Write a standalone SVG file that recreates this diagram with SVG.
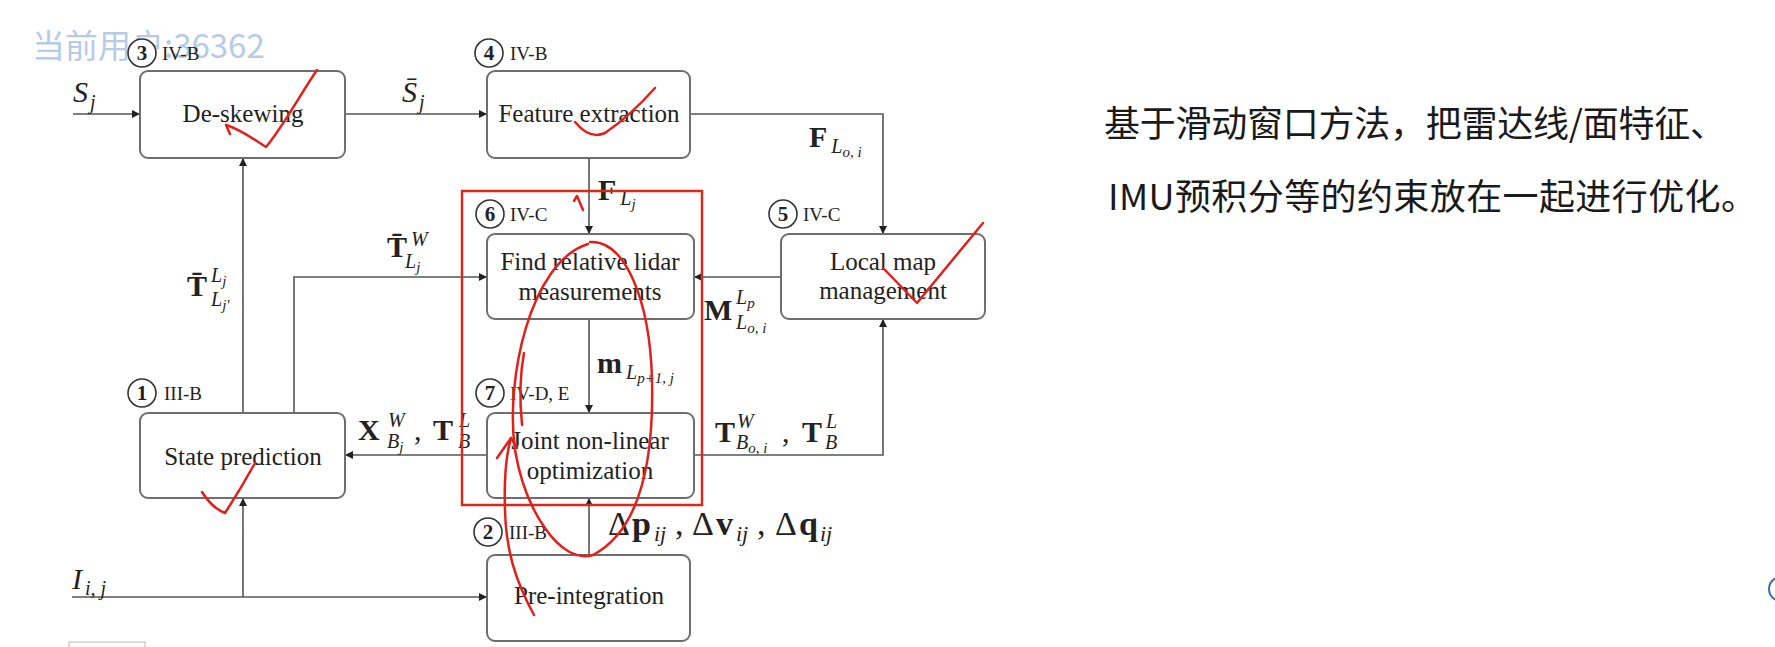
<svg xmlns="http://www.w3.org/2000/svg" width="1775" height="647" viewBox="0 0 1775 647">
<defs>
<marker id="arr" viewBox="0 0 10 10" refX="10" refY="5" markerWidth="9" markerHeight="8" markerUnits="userSpaceOnUse" orient="auto"><path d="M0,0 L10,5 L0,10 z" fill="#222"/></marker>
<style>
.box{fill:#fff;stroke:#6e6e6e;stroke-width:2}
.lbl{font-family:"Liberation Serif","Times New Roman",serif;font-size:25px;fill:#222;text-anchor:middle}
.sec{font-family:"Liberation Serif","Times New Roman",serif;font-size:19px;fill:#222}
.num{fill:#fff;stroke:#333;stroke-width:1.6}
.numt{font-family:"Liberation Serif","Times New Roman",serif;font-size:21px;font-weight:bold;fill:#222;text-anchor:middle}
.m{font-family:"Liberation Serif","Times New Roman",serif;font-size:30px;fill:#222}
.b{font-weight:bold}
.i{font-style:italic}
.s{font-size:20px;font-style:italic}
.ss{font-size:15px;font-style:italic}
.big{font-size:34px}
.bs{font-size:22px;font-style:italic}
.con{fill:none;stroke:#555;stroke-width:1.6}
.red{fill:none;stroke:#e0211b;stroke-width:2.5;stroke-linecap:round;stroke-linejoin:round}
.cn{font-family:"Noto Sans CJK SC",sans-serif;font-size:36px;fill:#1a1a1a}
</style>
</defs>
<rect width="1775" height="647" fill="#fff"/>
<text x="32" y="58" font-family="Noto Sans CJK SC, sans-serif" font-size="33" fill="#a9c3e3" opacity="0.85">当前用户:36362</text>

<g id="connectors">
<path class="con" d="M73 114 H140" marker-end="url(#arr)"/>
<path class="con" d="M345 114 H487" marker-end="url(#arr)"/>
<path class="con" d="M690 114 H883 V234" marker-end="url(#arr)"/>
<path class="con" d="M589 158 V234" marker-end="url(#arr)"/>
<path class="con" d="M781 277 H694" marker-end="url(#arr)"/>
<path class="con" d="M589 319 V413" marker-end="url(#arr)"/>
<path class="con" d="M694 455 H883 V319" marker-end="url(#arr)"/>
<path class="con" d="M487 455 H345" marker-end="url(#arr)"/>
<path class="con" d="M243 413 V158" marker-end="url(#arr)"/>
<path class="con" d="M294 413 V277 H487" marker-end="url(#arr)"/>
<path class="con" d="M72 597 H487" marker-end="url(#arr)"/>
<path class="con" d="M243 597 V498" marker-end="url(#arr)"/>
<path class="con" d="M589 555 V498" marker-end="url(#arr)"/>
</g>

<g id="n3">
<rect class="box" x="140" y="71" width="205" height="87" rx="8"/>
<text class="lbl" x="243" y="122">De-skewing</text>
<circle class="num" cx="142" cy="53" r="14"/><text class="numt" x="142" y="60">3</text>
<text class="sec" x="162" y="60">IV-B</text>
</g>
<g id="n4">
<rect class="box" x="487" y="71" width="203" height="87" rx="8"/>
<text class="lbl" x="589" y="122">Feature extraction</text>
<circle class="num" cx="489" cy="53" r="14"/><text class="numt" x="489" y="60">4</text>
<text class="sec" x="510" y="60">IV-B</text>
</g>
<g id="n6">
<rect class="box" x="487" y="234" width="207" height="85" rx="8"/>
<text class="lbl" x="590" y="270">Find relative lidar</text>
<text class="lbl" x="590" y="300">measurements</text>
<circle class="num" cx="490" cy="214" r="14"/><text class="numt" x="490" y="221">6</text>
<text class="sec" x="510" y="221">IV-C</text>
</g>
<g id="n5">
<rect class="box" x="781" y="234" width="204" height="85" rx="8"/>
<text class="lbl" x="883" y="270">Local map</text>
<text class="lbl" x="883" y="299">management</text>
<circle class="num" cx="783" cy="214" r="14"/><text class="numt" x="783" y="221">5</text>
<text class="sec" x="803" y="221">IV-C</text>
</g>
<g id="n1">
<rect class="box" x="140" y="413" width="205" height="85" rx="8"/>
<text class="lbl" x="243" y="465">State prediction</text>
<circle class="num" cx="142" cy="393" r="14"/><text class="numt" x="142" y="400">1</text>
<text class="sec" x="164" y="400">III-B</text>
</g>
<g id="n7">
<rect class="box" x="487" y="413" width="207" height="85" rx="8"/>
<text class="lbl" x="590" y="449">Joint non-linear</text>
<text class="lbl" x="590" y="479">optimization</text>
<circle class="num" cx="490" cy="393" r="14"/><text class="numt" x="490" y="400">7</text>
<text class="sec" x="510" y="400">IV-D, E</text>
</g>
<g id="n2">
<rect class="box" x="487" y="555" width="203" height="86" rx="8"/>
<text class="lbl" x="589" y="604">Pre-integration</text>
<circle class="num" cx="488" cy="532" r="14"/><text class="numt" x="488" y="539">2</text>
<text class="sec" x="509" y="539">III-B</text>
</g>

<g id="labels">
<text class="m" x="73" y="102"><tspan class="i">S</tspan><tspan class="s" dx="2" dy="7">j</tspan></text>
<text class="m" x="402" y="102"><tspan class="i">S̄</tspan><tspan class="s" dx="2" dy="7">j</tspan></text>
<text class="m" x="809" y="147"><tspan class="b">F</tspan><tspan class="s" dx="4" dy="6">L</tspan><tspan class="ss" dy="4">o, i</tspan></text>
<text class="m" x="598" y="200"><tspan class="b">F</tspan><tspan class="s" dx="4" dy="5">L</tspan><tspan class="ss" dy="4">j</tspan></text>
<text class="m" x="387" y="257"><tspan class="b">T̄</tspan><tspan class="s" x="411" y="246">W</tspan><tspan class="s" x="405" y="268">L</tspan><tspan class="ss" dy="4">j</tspan></text>
<text class="m" x="187" y="296"><tspan class="b">T̄</tspan><tspan class="s" x="211" y="282">L</tspan><tspan class="ss" dy="4">j</tspan><tspan class="s" x="211" y="306">L</tspan><tspan class="ss" dy="4">j′</tspan></text>
<text class="m" x="704" y="320"><tspan class="b">M</tspan><tspan class="s" x="736" y="304">L</tspan><tspan class="ss" dy="4">p</tspan><tspan class="s" x="736" y="329">L</tspan><tspan class="ss" dy="4">o, i</tspan></text>
<text class="m" x="597" y="373"><tspan class="b">m</tspan><tspan class="s" dx="4" dy="6">L</tspan><tspan class="ss" dy="4">p+1, j</tspan></text>
<text class="m" x="358" y="440"><tspan class="b">X</tspan><tspan class="s" x="388" y="427">W</tspan><tspan class="s" x="387" y="448">B</tspan><tspan class="ss" dy="4">j</tspan><tspan x="414" y="440">,</tspan><tspan class="b" x="433" y="440">T</tspan><tspan class="s" x="459" y="427">L</tspan><tspan class="s" x="458" y="448">B</tspan></text>
<text class="m" x="715" y="442"><tspan class="b">T</tspan><tspan class="s" x="737" y="428">W</tspan><tspan class="s" x="736" y="449">B</tspan><tspan class="ss" dy="4">o, i</tspan><tspan x="782" y="442">,</tspan><tspan class="b" x="802" y="442">T</tspan><tspan class="s" x="826" y="428">L</tspan><tspan class="s" x="825" y="449">B</tspan></text>
<text class="m big" x="608" y="535"><tspan x="608">Δ</tspan><tspan class="b" x="632">p</tspan><tspan class="bs" x="654" y="541">ij</tspan><tspan x="675" y="535">,</tspan><tspan x="692">Δ</tspan><tspan class="b" x="716">v</tspan><tspan class="bs" x="736" y="541">ij</tspan><tspan x="757" y="535">,</tspan><tspan x="775">Δ</tspan><tspan class="b" x="799">q</tspan><tspan class="bs" x="820" y="541">ij</tspan></text>
<text class="m" x="72" y="589"><tspan class="i">I</tspan><tspan class="s" dx="3" dy="6">i, j</tspan></text>
</g>

<rect x="462" y="191" width="240" height="314" fill="none" stroke="#d62a1e" stroke-width="2.5"/>

<g id="annotations">
<path class="red" d="M317 70 C300 95 282 128 266 147 C255 140 240 129 226 125 L230 134"/>
<path class="red" d="M575 122 Q590 140 605 133 Q630 116 655 88"/>
<path class="red" d="M883 268 L917 303 L983 223"/>
<path class="red" d="M202 492 Q212 508 225 513 Q240 490 255 463"/>
<path class="red" d="M574 201 L577 196 L583 210"/>
<path class="red" d="M590 242 C625 240 650 300 652 380 C654 460 640 530 593 555 C560 565 525 510 515 450 C505 380 530 262 588 244"/>
<path class="red" d="M524 353 Q518 385 522 425"/>
<path class="red" d="M534 615 C515 580 506 550 505 510 C504 480 506 455 511 438"/>
<path class="red" d="M497 458 L511 438 L517 448"/>
</g>

<g id="note">
<text class="cn" x="1104" y="137" textLength="622" lengthAdjust="spacing">基于滑动窗口方法，把雷达线/面特征、</text>
<text class="cn" x="1108" y="210" textLength="649" lengthAdjust="spacing">IMU预积分等的约束放在一起进行优化。</text>
</g>
<rect x="69" y="642" width="76" height="10" fill="#fff" stroke="#d0d0d0" stroke-width="1.5"/>
<circle cx="1781" cy="589" r="12" fill="none" stroke="#3d6fb0" stroke-width="2"/>
</svg>
